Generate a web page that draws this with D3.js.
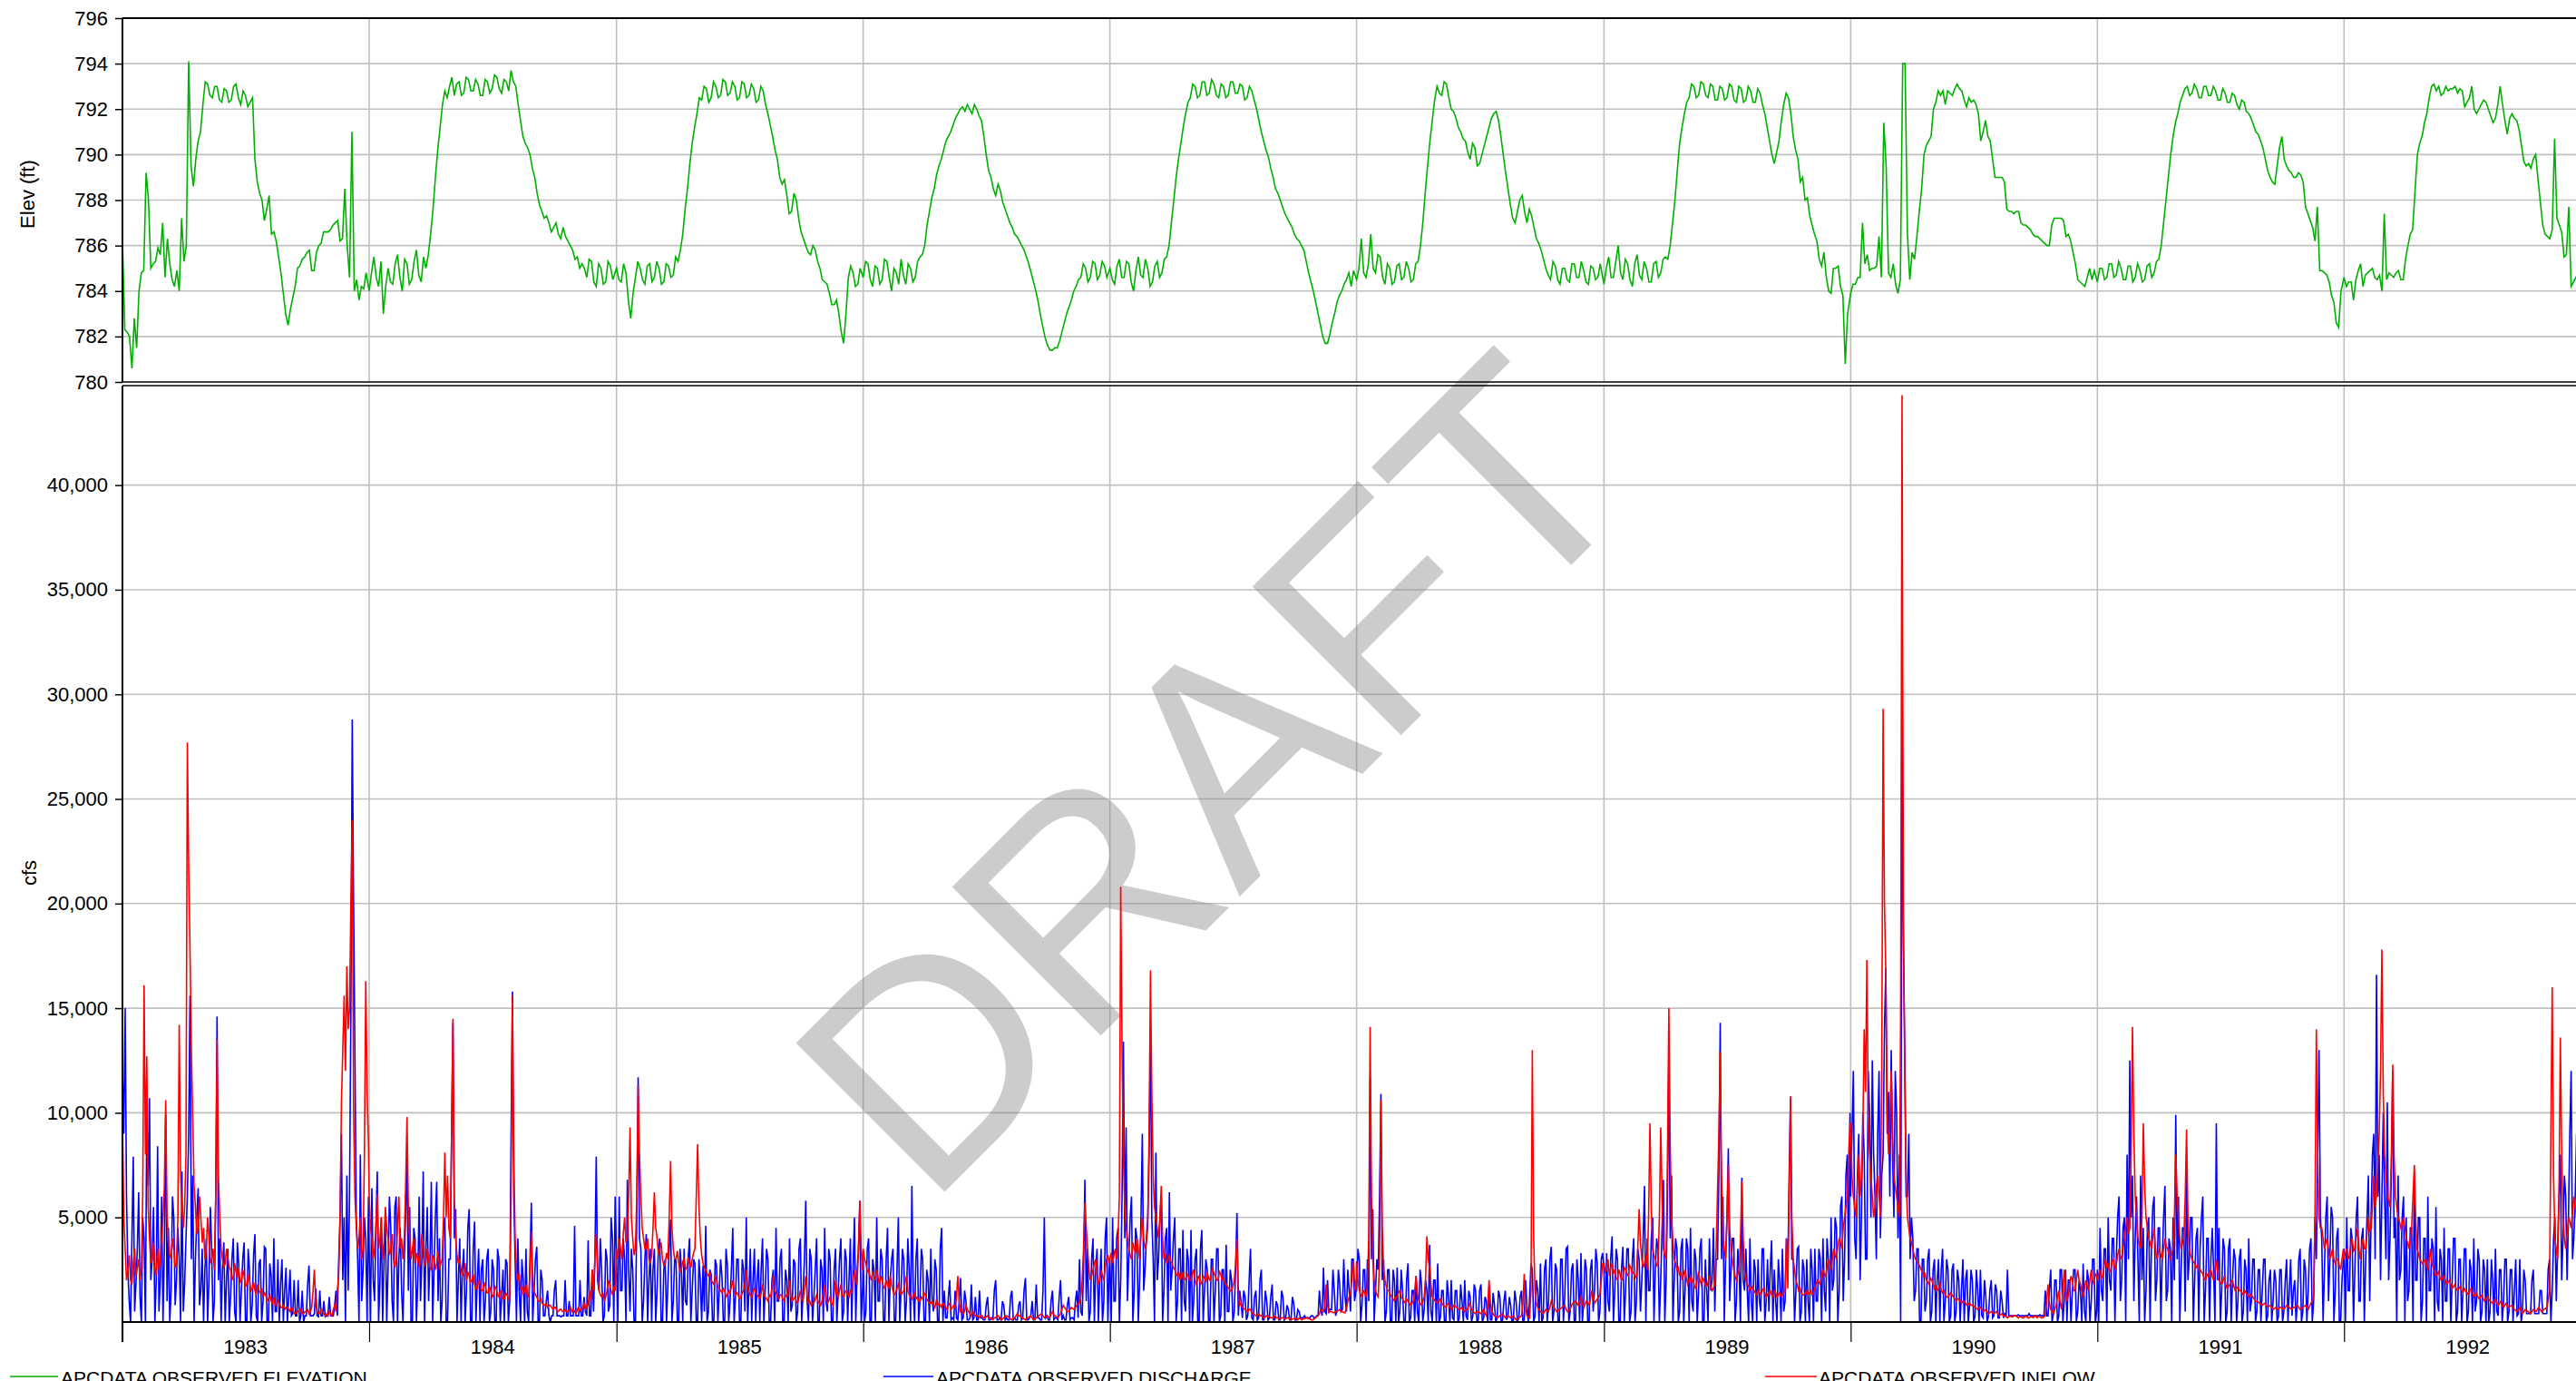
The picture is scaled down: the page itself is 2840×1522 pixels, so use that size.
<!DOCTYPE html>
<html><head><meta charset="utf-8">
<script src="https://cdn.jsdelivr.net/npm/d3@7"></script>
<style>
html,body{margin:0;padding:0;background:#fff;overflow:hidden;}
svg{display:block;font-family:"Liberation Sans",Arial,sans-serif;}
</style></head><body>
<svg id="chart" width="2840" height="1522"></svg>
<script>
// ---------------- DATA ----------------
const years = [1983,1984,1985,1986,1987,1988,1989,1990,1991,1992];
const yearLabels = ["1983","1984","1985","1986","1987","1988","1989","1990","1991","1992"];
const elevTicks = [780,782,784,786,788,790,792,794,796];
const flowTicks = [5000,10000,15000,20000,25000,30000,35000,40000];
const legendNames = ["APCDATA OBSERVED ELEVATION","APCDATA OBSERVED DISCHARGE","APCDATA OBSERVED INFLOW"];

// Elevation (ft), one reading every 3.5 days from Jan 1 of each year
const elev1983 = [786.2,782.3,782.2,782.0,780.6,782.8,781.5,784.0,784.8,784.9,789.2,788.0,785.0,785.2,785.3,785.9,785.6,787.0,784.6,786.3,785.2,784.5,784.2,784.9,784.0,787.2,785.3,786.0,794.1,789.5,788.6,789.8,790.6,791.0,792.2,793.2,793.1,792.6,792.5,793.0,793.0,792.4,792.3,792.9,792.8,792.3,792.4,793.0,793.1,792.5,792.2,792.8,792.6,792.1,792.3,792.5,789.8,788.8,788.3,788.0,787.1,787.6,788.2,786.5,786.6,786.2,785.5,784.8,783.9,783.0,782.5,783.2,783.7,784.2,785.0,785.1,785.4,785.5,785.7,785.8,784.9,784.9,785.7,786.0,786.1,786.6,786.6,786.6,786.7,786.9,787.0,787.1,786.2,786.3,788.5,786.0,784.6,791.0,784.0,784.5,783.6,784.2,784.1,784.8];
const elev1984 = [784.0,784.8,785.5,784.6,784.2,785.3,783.0,784.2,785.0,784.4,784.3,785.2,785.6,784.6,784.0,785.4,785.2,784.3,784.5,785.3,785.8,784.7,784.4,785.5,785.0,785.6,786.5,787.6,789.0,790.2,791.2,792.2,792.8,792.5,793.0,793.4,792.6,793.1,793.2,792.6,792.7,793.4,793.3,792.8,792.8,793.3,793.1,792.6,792.6,793.3,793.2,792.7,792.9,793.5,793.4,792.9,792.7,793.3,793.2,792.8,793.7,793.2,793.0,792.2,791.5,790.8,790.5,790.3,790.0,789.4,789.0,788.3,787.8,787.5,787.2,787.3,787.0,786.6,786.8,787.0,786.5,786.3,786.8,786.4,786.2,786.0,785.8,785.4,785.5,785.0,785.2,785.0,784.6,785.4,785.3,784.4,784.2,785.2,785.0,784.3,784.4,785.3,785.1,784.5];
const elev1985 = [785.0,784.5,784.4,785.2,784.8,783.6,782.8,783.9,784.6,785.3,785.0,784.5,784.3,785.1,785.2,784.4,784.6,785.3,785.0,784.3,784.4,785.2,785.1,784.6,784.7,785.5,785.3,785.8,786.5,787.6,788.5,789.6,790.5,791.2,791.8,792.5,792.4,793.0,792.9,792.3,792.5,793.2,793.0,792.5,792.6,793.3,793.2,792.6,792.7,793.2,793.0,792.4,792.5,793.2,793.1,792.5,792.6,793.1,792.9,792.3,792.4,793.0,792.8,792.2,791.8,791.3,790.8,790.2,789.8,789.0,788.7,788.9,788.2,787.4,787.5,788.3,788.0,787.2,786.6,786.3,786.0,785.7,785.6,786.0,785.8,785.3,785.0,784.5,784.4,784.3,783.9,783.4,783.4,783.6,783.0,782.2,781.7,783.0,784.6,785.1,784.8,784.2,784.3,785.0];
const elev1986 = [784.6,785.3,785.2,784.5,784.2,785.1,785.0,784.3,784.5,785.4,785.3,784.6,784.0,785.0,784.8,784.3,785.4,784.7,784.3,785.2,785.0,784.4,784.6,785.3,785.5,785.6,786.0,786.9,787.5,788.1,788.5,789.1,789.5,789.8,790.2,790.6,790.8,791.0,791.3,791.6,791.8,792.0,792.1,791.9,792.2,792.0,791.8,792.2,792.0,791.7,791.5,790.8,790.0,789.3,789.0,788.5,788.2,788.7,788.4,787.9,787.6,787.3,787.0,786.8,786.5,786.4,786.2,786.0,785.8,785.5,785.2,784.8,784.4,784.0,783.5,782.9,782.4,781.9,781.6,781.4,781.4,781.5,781.5,781.8,782.2,782.6,783.0,783.3,783.6,784.0,784.2,784.5,784.6,785.2,785.0,784.4,784.6,785.3,785.2,784.5,784.7,785.3,785.1,784.6];
const elev1987 = [785.0,784.5,784.3,785.1,785.4,784.6,784.6,785.3,785.2,784.4,784.0,784.9,785.5,784.7,784.6,785.4,785.0,784.2,784.4,785.1,785.3,784.6,784.8,785.4,785.5,786.0,787.0,788.0,789.0,789.8,790.5,791.2,791.8,792.3,792.5,793.1,793.0,792.5,792.6,793.2,793.2,792.6,792.7,793.3,793.1,792.6,792.5,793.1,793.0,792.5,792.6,793.2,793.2,792.7,792.7,793.1,793.0,792.4,792.5,793.0,792.8,792.4,792.0,791.5,791.0,790.6,790.2,789.9,789.4,789.0,788.5,788.3,788.0,787.7,787.4,787.2,787.0,786.8,786.5,786.3,786.2,786.0,785.8,785.3,784.8,784.4,784.0,783.5,783.0,782.5,782.0,781.7,781.7,782.1,782.6,783.0,783.5,783.8,784.0,784.3,784.5,784.8,784.2,784.9];
const elev1988 = [784.5,785.0,786.3,784.8,784.6,785.2,786.5,785.0,784.8,785.6,785.5,784.6,784.3,785.2,785.0,784.3,784.4,785.1,785.2,784.5,784.6,785.3,785.0,784.4,784.5,785.2,785.3,786.0,787.0,788.3,789.5,790.6,791.5,792.4,793.0,792.7,792.6,793.2,793.1,792.5,792.0,791.9,791.6,791.2,791.0,790.7,790.6,790.1,789.8,790.5,790.3,789.5,789.6,790.0,790.4,790.8,791.2,791.6,791.8,791.9,791.5,790.8,790.0,789.2,788.5,787.8,787.2,787.0,787.5,788.0,788.2,787.5,787.0,787.6,787.3,786.8,786.3,786.1,785.8,785.4,785.0,784.7,784.5,785.3,785.1,784.5,784.3,785.0,785.0,784.5,784.4,785.2,785.2,784.6,784.6,785.3,784.9,784.4,784.3,785.1,785.0,784.5,784.6,785.2];
const elev1989 = [784.3,785.0,785.5,784.6,784.6,785.3,786.0,784.8,784.5,785.4,785.2,784.5,784.2,785.2,785.6,784.7,784.5,785.3,785.0,784.4,784.4,785.2,785.3,784.6,784.8,785.4,785.5,785.4,786.0,787.0,788.0,789.3,790.5,791.2,791.8,792.3,792.5,793.1,793.0,792.5,792.6,793.2,793.1,792.6,792.5,793.1,793.0,792.4,792.4,793.0,792.9,792.4,792.5,793.1,793.0,792.4,792.3,793.0,792.9,792.3,792.4,793.0,792.8,792.3,792.3,792.9,792.7,792.2,791.8,791.2,790.6,790.0,789.6,790.1,790.6,791.5,792.2,792.7,792.5,791.8,790.8,790.2,789.8,788.8,789.0,788.0,788.1,787.3,786.9,786.5,786.2,785.4,785.1,785.7,784.6,784.0,783.9,785.0,785.0,785.1,784.2,783.8,780.8,783.0];
const elev1990 = [783.9,784.3,784.3,784.6,784.6,787.0,785.2,785.6,784.9,785.0,785.0,785.1,786.4,784.6,791.4,789.5,784.8,784.6,785.2,784.3,783.9,784.5,794.0,794.0,786.5,784.5,785.7,785.4,786.4,787.5,788.5,790.0,790.4,790.6,790.8,792.0,792.3,792.8,792.6,792.8,792.2,792.8,792.7,792.6,792.9,793.1,792.9,792.8,792.4,792.1,792.5,792.3,792.4,792.2,791.8,790.6,791.0,791.5,790.8,790.6,789.8,789.0,789.0,789.0,789.0,788.8,787.6,787.5,787.5,787.4,787.5,787.5,787.0,786.9,786.9,786.8,786.7,786.5,786.4,786.4,786.3,786.2,786.1,786.0,786.0,786.9,787.2,787.2,787.2,787.2,787.1,786.4,786.5,786.2,785.7,785.2,784.5,784.4,784.3,784.2,784.6,785.0,784.5,784.9];
const elev1991 = [784.4,785.0,785.0,784.5,784.6,785.2,785.2,784.6,784.7,785.3,785.0,784.5,784.5,785.1,785.1,784.4,784.6,785.2,784.9,784.4,784.5,785.1,785.2,784.6,784.8,785.3,785.4,786.0,787.0,788.0,789.0,790.0,790.8,791.4,791.8,792.3,792.6,792.9,793.0,792.6,792.7,793.1,792.9,792.5,792.5,793.0,793.0,792.6,792.6,793.0,792.8,792.4,792.4,792.9,792.7,792.3,792.3,792.7,792.6,792.2,792.0,792.4,792.3,791.9,791.8,791.6,791.3,791.0,790.9,790.6,790.3,789.8,789.3,789.0,788.8,788.7,789.5,790.3,790.8,789.8,789.5,789.3,789.2,789.0,789.0,789.2,789.1,788.8,787.7,787.4,787.1,786.8,786.2,787.7,784.9,784.9,784.8,784.7,784.4,783.8,783.5,782.6,782.4,784.0];
const elev1992 = [784.6,784.2,784.4,784.4,783.6,784.5,784.9,785.2,784.2,784.7,784.8,784.9,785.0,784.6,784.5,784.7,784.0,787.4,784.5,784.8,784.7,784.6,784.8,784.9,784.5,784.5,785.4,786.0,786.5,786.7,788.4,790.0,790.5,790.8,791.4,791.8,792.5,793.0,793.1,792.8,793.0,792.6,792.7,793.0,792.8,792.9,792.9,793.0,792.7,792.9,792.8,792.1,792.3,792.5,793.0,792.0,791.8,792.0,792.2,792.4,792.3,792.0,791.7,791.4,791.6,792.2,793.0,792.2,791.5,790.9,791.6,791.8,791.6,791.5,791.1,790.4,789.7,789.5,789.6,789.4,789.8,790.0,788.9,787.9,786.9,786.5,786.4,786.3,786.7,790.7,787.2,786.9,786.6,785.5,785.6,787.7,784.2,784.4,784.6,784.4];

// Discharge (cfs), one reading every 2 days from Jan 1 of each year
const dis1983 = [12000,9000,15000,6000,2500,1000,0,4000,7900,500,1800,3500,6200,1200,0,5000, 4000,0,10000,6500,10700,2000,3000,5500,0,2000,8400,500,2000,6000, 0,3500,9900,1000,4500,0,1500,6000,5000,800,2000,4500,3000,0,7200,500, 1800,4000,6000,9000,15600,3000,7000,0,3000,5000,6400,800,1500,3500, 0,2500,4000,0,2000,5500,3500,0,1000,6000,14600,2000,4000,0,2500,3800, 0,2000,3500,0,1200,3000,4000,500,0,3800,2800,0,1500,3000, 3800,0,0,3500,2500,0,800,3200,4200,300,0,2800,3000,0,1000,3600, 3500,0,0,2800,2200,0,4000,500,500,3000,0,1800,3000,0,1500,2600, 0,1200,2500,300,400,2000,300,300,2000,0,300,1500,0,300, 300,1800,2700,300,300,300,400,1600,300,250,1500,300,300,1000,250,300, 300,1200,300,300,300,800,1500,300,3000,5000,9000,2000,5000,0, 7000,1500,6000,15000,28800,20000,12600,5000,3000,0,8000,1000,2500,5000,4000,0,6000];
const dis1984 = [3500,0,6400,2000,1000,4500,7200,0,2000,5000,0,3000,5000,0,2500,6000, 4500,1000,0,5500,6000,0,3000,4500,1500,0,3000,5000,8100,1500, 5500,0,0,4500,4000,0,2000,6000,1000,3000,7200,0,3500,5500,1000,3000, 6700,0,2500,5000,6700,1000,4000,0,1000,4500,5000,0,0,3000, 3000,9000,14300,4000,5400,0,2000,4000,0,2500,3500,0,1500,4500,5400,0, 0,3500,4800,0,2000,3500,0,2500,3000,0,1000,3000,3500,0, 500,3000,2500,0,0,3500,3000,0,1200,2500,0,3000,2800,0,1000,9000, 15800,6000,3000,0,4000,1500,0,3000,2000,0,3500,500,0,3000,5700,0, 1500,3000,3600,0,0,2500,2000,300,300,1000,1500,300,0,300, 300,1500,2000,300,300,300,250,300,300,2000,300,300,1000,300,300,300, 4600,300,300,300,2000,300,300,1200,500,300,3900,300,300,2500, 500,3000,7900,2000,1500,4000,2500,0,300,3500,3000,500,800,5000,4000,0,6000];
const dis1985 = [3000,0,6000,1500,1500,4000,3000,0,6800,2500,500,3500,2500,0,0,5000, 11700,4000,3500,0,1000,3000,4200,0,2000,3500,0,2500,3500,0, 1500,3500,4000,0,0,2500,3000,0,1800,3500,4900,0,1000,3000,3000,0, 0,3500,2500,0,3500,1000,800,3000,4000,0,1500,3000,2800,0, 0,3000,2000,0,2700,500,4600,0,500,2500,2300,0,0,3000,2700,0, 1500,3000,2200,0,0,3500,2700,0,1000,2500,4500,0,1200,3000, 3000,0,0,3000,2500,500,5000,0,1500,3500,0,2000,3500,0,2000,3000, 0,2500,4000,0,1500,3500,3000,0,0,2000,2500,0,4500,1000,1000,3000, 3500,0,0,2500,2000,0,4000,500,800,3000,2800,0,500,3500, 4000,0,1500,3000,5800,1000,0,3500,3000,0,1200,2500,4000,0,0,3000, 2500,0,4500,1000,500,3500,3000,0,0,2500,3500,0,1500,3000, 4000,0,500,3500,3000,0,2000,4000,0,2500,5000,0,2500,3500,5800,0,1500];
const dis1986 = [3000,0,500,3500,4000,0,0,3000,2500,0,5000,1000,1000,3500,3000,0, 0,3000,4500,0,2000,3000,3500,0,0,2500,5000,0,1500,3500, 3000,0,1000,4000,2500,0,6500,1500,0,3000,4000,0,1000,3500,3000,0, 0,2500,2000,0,3500,1000,500,3000,2500,0,0,3500,4500,0, 1500,200,200,1200,2000,100,200,100,1500,200,100,1000,2100,100,200,1500, 1000,100,100,200,1800,100,200,1200,100,100,1500,200,200,100, 100,800,1200,100,100,200,200,1500,2000,100,100,200,100,1000,800,100, 200,100,100,1200,1500,100,200,100,100,800,1000,100,200,1500,2100,100, 100,200,300,1000,100,100,1800,200,200,100,100,1500,5000,200, 300,100,100,1000,1500,100,200,200,100,1200,2000,100,300,100,100,800, 1200,100,200,200,100,1000,1500,200,3000,500,300,2500,6800,1000, 3500,0,500,3000,4000,0,2500,3500,0,2000,3500,0,1000,4000,5000,0,2500];
const dis1987 = [3000,0,5000,1000,1000,4000,4500,0,2000,6000,13400,4000,9300,1000,3000,5000, 6000,0,1500,4500,4000,0,2000,5000,9000,1500,2500,4000,5000,8000, 14000,5000,3000,0,8100,2000,3000,5000,6000,0,1500,4000,4500,0,6200,1500, 2500,4000,5000,0,1000,3500,3500,0,4400,1000,500,3500,3000,0, 4400,0,1000,3000,3500,0,0,3500,4400,0,1500,3000,2500,0,0,3000, 3000,0,1500,3500,3500,0,300,2500,2500,0,3700,500,500,2500, 2000,0,500,2500,5200,300,1500,1000,200,1500,1200,100,300,2000,3500,200, 100,1200,1500,100,200,2000,2500,100,100,1500,1000,100,200,1200,1800,100, 100,1000,800,100,100,1500,1200,100,200,800,600,100,100,1200, 900,100,100,600,500,200,200,200,300,200,200,200,200,300,300,200, 200,300,300,1500,600,300,2600,500,400,2000,500,600,600,2500, 1500,300,500,2500,1800,500,600,3000,1200,500,2500,1500,500,3000,3000,1000,1500];
const dis1988 = [1500,3500,3000,0,800,2500,2500,0,3000,1000,11700,3000,5400,0,1500,3000, 2500,6000,10900,2000,3000,0,500,2500,2500,0,0,2500,2000,0, 2600,0,500,2500,1500,0,0,2000,2800,0,200,1500,1500,0,2200,500, 0,2500,1800,0,600,2000,1500,0,3700,500,0,2000,2000,0, 2800,0,200,1500,1500,0,0,2000,1200,0,2000,200,100,1500,1500,0, 200,1800,1000,0,2000,300,100,1500,1200,0,300,1800,1500,0, 100,1500,1800,0,200,1200,1000,0,1700,100,100,1400,800,0,200,1500, 1200,0,100,1000,1500,100,300,1200,800,0,100,1500,1000,0,200,1200, 1500,0,100,2000,800,0,1200,2800,2500,0,300,2000,1500,0, 2800,0,200,2500,3000,0,1000,3000,3600,0,500,2800,2500,0,0,3000, 3000,0,1200,3500,3600,0,500,2500,2800,0,100,3000,2000,0, 3300,0,1000,3000,2500,0,0,2500,3000,500,1500,3500,2800,0,500,3000,3300];
const dis1989 = [2500,0,3300,1000,500,3000,4100,0,1500,3500,3000,0,0,2500,3600,0, 1500,3500,3500,0,500,3000,4000,0,1000,3500,3000,500,2000,4000, 6500,0,4000,1500,1500,4000,5000,0,2500,4000,3500,0,2000,4500,6800,0, 2000,6000,12700,4000,7000,0,2000,4000,3500,0,500,3500,4000,0, 1500,4000,3500,0,4500,1000,500,3500,3000,0,1500,3500,4000,0,0,3000, 1500,0,4000,1500,2000,4500,500,3000,3000,7000,14300,3000,6000,0, 3000,5000,8300,1000,2500,4000,4000,0,1000,3500,2500,0,6900,2000,1500,3500, 1500,0,4000,1000,0,3000,2500,0,3000,1000,500,3500,3500,0,1000,3000, 500,2500,3900,0,2500,1000,0,3000,2000,0,3500,500,1000,4000, 2500,7000,10700,3000,3000,0,1500,3500,3600,0,500,3000,2500,0,3000,1000, 0,3500,2500,0,3500,1000,1000,3500,3000,0,4000,1500,500,4000, 3000,0,5000,1500,2000,5000,4500,0,1500,5500,6000,1000,3000,7000,8000,2000,10000];
const dis1990 = [6000,9000,12000,4000,3000,7000,9000,2000,5000,10000,8000,3000,3000,12000,10000,5000, 12500,8000,6000,3000,9000,12000,4000,7000,8000,14000,16900,9000,11000,6000, 13000,8000,5000,12000,10000,4000,8000,0,29500,18000,13000,6000,6000,9000,3000,5000, 4000,1000,1500,3500,3500,0,0,3000,3000,500,1000,3000,3500,0, 500,2500,3000,0,2000,3000,0,2500,3500,0,1000,3000,2500,0,300,2500, 2800,0,500,2500,2000,0,1500,3000,0,2000,2500,0,800,2500, 2000,0,300,2500,1500,0,2500,300,200,2000,1200,0,300,1500,2000,200, 300,1800,1500,200,200,1500,1000,200,400,300,2500,300,300,300,300,300, 300,300,350,300,300,300,300,300,300,300,400,300,300,300, 300,300,300,300,350,300,300,300,1500,300,300,1500,2500,0,400,2000, 2000,0,300,2500,2500,0,1000,2500,0,2000,2000,0,1500,2500, 2500,0,500,2000,1500,0,2800,500,0,2500,2000,0,1000,3000,3000,0,500];
const dis1991 = [2500,0,4500,1500,1000,3500,3500,0,5000,2000,1500,4000,4000,0,3000,5000, 6000,1000,2000,4500,5000,0,8000,3000,12500,5000,7000,1000,4000,6000, 3000,0,7000,2000,4500,0,1500,4500,5000,0,3500,5500,6000,1000,2000,4500, 4500,0,3000,5000,6500,1000,1500,4000,3500,0,5000,2000,9900,3000, 6000,0,2500,4500,4500,500,7500,2000,3000,5000,5000,0,2000,4000,4500,0, 3500,5000,6000,0,1500,4000,4000,0,3000,4500,2500,0,9500,2000, 4500,0,1500,4000,3500,0,500,3500,4000,0,2000,3500,3000,0,1000,3000, 3500,0,500,3000,2500,0,4000,500,1000,3000,3000,0,500,2500,2500,0, 1500,3000,3000,0,300,2000,2500,0,1000,2500,2000,0,300,2500, 2500,0,500,2000,3000,0,1500,3000,300,1500,2000,0,1000,3000,3500,0, 500,3000,2500,0,1500,3500,4000,0,1000,5000,3000,8000,13000,5000, 4000,0,2500,5000,6000,1000,3000,5500,5000,0,1500,4000,4500,0,0,2000,3000];
const dis1992 = [3500,0,5000,1500,1500,4500,4000,0,2500,5000,6000,1000,1000,4000,4500,0, 3000,5000,7000,1000,5000,8000,9000,3000,16600,6000,8000,2000,6000,10000, 6000,3000,10500,2000,4000,7000,12000,4000,5000,0,7000,2000,2500,5000,6000,0, 5000,1000,1500,4500,4500,0,7000,2000,2000,5000,5000,0,1000,4000, 4000,0,6000,1500,1500,4000,3500,0,5500,1000,500,3500,3000,0,4500,1000, 1000,3500,3500,0,2000,4000,4000,0,500,3000,3000,0,1500,3500, 3500,0,500,3000,2500,0,4000,500,1000,3500,3000,0,500,3000,2500,0, 3000,0,500,3000,2000,0,3500,500,300,2500,2500,0,1000,3000,3000,0, 500,2500,2500,0,1500,3000,300,400,3000,0,500,2500,2000,400, 400,400,400,2000,2500,400,400,400,400,1500,1500,400,400,400,400,2500, 3000,0,1500,4000,5000,1000,3500,6000,8000,2000,4000,7000,6000,2000, 5000,9000,12000,3000,4000,6000,9000];

// Inflow (cfs), one reading every 2 days from Jan 1 of each year
const inf1983 = [9800,5000,3500,2000,2500,3200,2000,1800,2800,3500,2200,2600,3000,2000,2500,6000, 16100,8000,12700,5500,4000,2800,3000,3800,2600,2200,3500,2500,3000,4000, 5000,6500,10600,5000,4000,3200,3000,4000,3500,2600,2800,5000,14200,7000,5500,4500, 5500,8000,27700,21700,17700,13000,9700,6500,5500,4200,4500,6000,5000,3800, 4500,3000,3500,5000,4000,2800,3000,3500,2500,6000,13500,7000,5000,3500,3000,2600, 2800,3500,3000,2600,2500,2000,2200,2800,2400,2100,2600,1900,2000,2500, 2200,1700,1800,2300,2000,1500,1600,1900,1500,1300,1800,1500,1400,1600,1200,1400, 1300,1000,1100,1300,1000,900,1200,800,800,1000,900,700,700,800,600,700, 700,600,500,700,600,400,400,500,500,600,600,400,400,500, 500,600,400,500,700,1500,2500,900,500,400,400,600,500,400,300,400, 300,500,400,300,600,800,500,1500,2300,5000,10500,13000,15600,12000, 17000,14000,15000,20000,24000,10000,6000,4500,3500,4000,5000,3000,3500,8000,16300,11000,8500];
const inf1984 = [6000,4500,4000,3000,3500,4500,6100,3500,4000,5000,3000,3800,5500,4500,4000,3200, 3500,4200,3000,2600,3000,4500,6000,3500,4000,3000,4000,6500,9800,5500, 4000,3000,3500,4000,2800,3300,3000,2600,3500,4200,3200,2700,2800,3500,3000,2600, 2500,3200,3000,2500,2800,3400,2500,2800,3000,5000,8100,5000,7000,4500, 4000,9000,14500,6000,4000,3200,2800,3000,2500,2200,2300,2800,2000,2400,2200,1900, 2000,2300,1800,1600,1600,2000,1800,1500,1500,1900,1700,1400,1400,1700, 1500,1200,1300,1700,1600,1300,1200,1500,1400,1100,1100,1400,1300,1100,1200,6000, 15600,8000,4000,2500,2000,2300,1500,1700,1300,1500,1800,1300,1200,2500,4300,2000, 1500,1300,1200,1000,1000,1100,900,800,800,900,700,800,800,700, 600,700,700,500,500,600,600,500,500,600,500,500,600,700,500,600, 500,400,600,700,500,600,700,900,600,800,800,1500,1000,2500, 1500,3000,4200,2500,1500,1300,1200,1400,1000,1200,1500,2000,1800,1500,1300,1700,1500];
const inf1985 = [3500,3000,4000,3500,3000,4200,5000,3800,4000,6000,9300,5000,4000,3200,3500,6000, 11300,8000,6000,4500,4000,3500,3500,4000,3000,2800,3200,4500,6200,4500, 4000,3200,3500,3800,3000,2700,2800,3300,3000,5000,7700,4500,3500,3000,3000,3400, 2800,2400,2500,2900,3000,2500,2600,3100,2800,2600,3000,3300,3500,6000, 8500,5500,4000,3200,2800,2600,2500,2300,2200,2400,2000,1900,1800,2200,2000,1700, 1600,1500,1400,1600,1500,1200,1300,1500,1400,1700,2000,1500,1300,1400, 1300,1100,1200,1400,1500,1900,2500,1600,1400,1300,1200,1500,1600,1400,1300,1200, 1100,1400,1800,1300,1200,1100,1000,1300,1200,1600,2200,1500,1400,1200,1100,1300, 1300,1100,1000,1300,1200,1500,2000,1200,1000,1100,1200,1000,900,1200, 1500,1100,1000,1600,2200,1300,900,1000,800,900,900,1100,1300,1000,900,800, 1000,1400,1800,1100,900,1000,1200,900,800,1300,2000,1400,1200,1500, 1800,1300,1200,1400,1500,1300,1200,1500,1400,2000,2500,2000,1800,3500,5800,3500,2500];
const inf1986 = [3500,3000,2800,2400,2500,2200,2000,2400,2200,2000,2500,2100,1800,2200,2000,1700, 1600,2000,1800,1600,2200,1800,1500,1300,1400,1600,1800,1500,1300,1400, 1500,1900,2200,1500,1300,1200,1100,1300,1400,1100,1200,1000,1000,1200,1100,1400, 1300,1100,1000,900,900,1000,800,700,1000,800,900,800,700,900, 800,700,600,800,900,600,700,800,700,1200,2200,1000,500,600,400,500, 800,600,500,400,300,500,400,300,300,250,200,300,300,200, 200,250,300,200,200,150,100,200,200,300,300,200,100,150,200,250, 300,250,200,150,100,200,200,300,400,300,300,200,200,150,100,200, 200,250,300,200,100,150,200,250,300,350,400,300,200,250, 300,250,200,400,500,350,300,250,200,300,400,600,800,700,600,500, 500,600,700,650,600,700,800,900,900,1200,2000,3500,5700,4500, 3500,2500,2000,2200,2500,2800,3000,2200,1800,2000,2500,2200,2000,2600,3000,3200,2800];
const inf1987 = [3000,3300,2800,3200,3500,3000,4000,6000,20800,13000,8000,5500,4500,4000,3500,3200, 3000,3800,3500,3300,4000,3500,3000,4200,5000,4000,3500,3800,4500,9000, 16800,11000,7000,5500,5000,4500,4000,5000,6500,4000,3000,3300,2800,3000,3200,2900, 2800,2600,2500,2300,2200,2400,2000,2200,2400,2000,2100,2300,2200,2000, 2000,2300,2500,2000,1800,2100,2200,1800,1900,2200,2100,1900,2400,2100,2000,2300, 2600,2300,2200,2000,2000,2400,2300,2000,2100,1900,1800,1700,1600,1500, 1500,1700,2000,2800,4000,1500,800,900,700,650,600,550,500,600,600,450, 400,350,300,350,400,300,300,250,200,250,300,250,250,200,200,250, 300,200,200,150,150,200,200,150,150,200,200,150,100,150, 150,200,150,100,200,150,100,150,150,200,200,150,150,100,100,150, 200,250,300,400,600,500,500,700,1800,800,450,500,500,450, 450,500,500,550,600,500,500,450,450,700,1000,1200,1400,2000,2900,2000,1500];
const inf1988 = [2900,2000,1500,1300,1200,1500,1400,1200,1800,4000,14100,6000,3000,2000,1500,1300, 1200,3000,10600,4500,2500,2000,1700,1500,1500,1300,1200,1100,1000,1200, 1200,1400,1500,1200,1100,1000,900,1100,1000,900,800,900,1000,1500,2200,1400, 1000,900,800,1000,1200,2000,4100,3000,2600,1800,1200,1100,1000,950, 900,1000,1100,900,800,750,700,850,900,700,600,700,800,750,700,650, 600,650,700,550,500,600,600,800,900,600,500,450,400,500, 500,450,400,500,600,400,300,700,2000,900,500,400,300,250,200,250, 300,350,400,300,200,250,300,250,200,250,300,200,100,150,200,250, 300,800,2300,600,300,250,200,1500,13000,4000,1500,900,700,600, 500,450,400,500,600,550,500,700,1000,800,700,600,500,550,600,650, 700,750,800,600,500,550,600,800,900,950,1000,900,800,1000, 1200,900,700,850,1000,900,800,1100,1500,1200,900,1000,1100,1200,1300,2000,2800];
const inf1989 = [2800,2400,2500,3000,2200,2600,2800,2300,2500,2100,2000,2500,2300,2000,2100,2600, 2500,2300,2200,2700,2600,2300,2400,2100,2200,3500,5400,3800,3000,2600, 2800,3200,2500,5000,9500,5500,3500,3200,3000,2700,2800,5000,9300,6000,3500,3200, 3000,8000,15000,8500,5000,3800,3000,2800,2500,2600,2200,2400,2000,2300, 2500,2100,1800,2000,2200,1900,2000,1700,1600,2000,2400,2000,1800,2100,2000,1800, 1700,1900,2200,1700,1500,1600,1800,3500,6200,9000,12900,7000,4000,3500, 3000,5000,7500,4500,3500,3000,2500,2200,2000,2300,2500,4000,6700,4000,2500,2000, 1800,1700,1500,1600,1700,1500,1400,1300,1500,1400,1300,1500,1600,1400,1200,1300, 1400,1500,1300,1200,1500,1400,1200,1300,1400,1200,1300,1400,1500,4000, 1600,6000,10800,5000,3000,2500,2000,1800,1500,1600,1400,1300,1300,1400,1500,1300, 1400,1500,1300,1400,1600,1800,2000,1900,1800,2200,2500,2300,2200,2600, 3000,2800,2500,3000,3500,3200,3000,3600,4000,3800,3500,4500,5000,5500,6000,8000,9500];
const inf1990 = [9500,7000,6000,5500,5000,6500,8000,6000,7000,9000,14000,11000,17300,10000,8000,7000, 6000,5000,5500,6500,7000,6000,5000,12000,29300,20000,16800,10000,8000,9500, 12000,9000,7000,6500,6000,5500,5000,15000,44300,20000,12000,7000,5000,4500,4000,3800, 3500,3200,3000,2900,2800,2700,2500,2400,2200,2300,2000,1900,1800,2100, 2000,1800,1600,1700,1500,1600,1800,1500,1400,1500,1300,1200,1200,1300,1400,1300, 1200,1100,1000,1100,1100,1000,900,1000,1000,900,800,850,900,800, 800,750,700,650,600,700,700,600,500,550,600,500,400,450,500,450, 400,450,500,400,300,350,400,300,300,250,200,250,300,250,250,300, 300,250,200,250,250,200,200,250,300,200,200,250,250,200, 300,250,200,300,250,200,200,250,300,1000,1800,900,600,500,400,600, 800,1200,1500,900,600,1500,2500,1500,1000,1300,1800,2200,2000,1500, 1500,2000,2500,2000,1800,1500,1200,1600,2000,1700,1500,2000,2500,2000,1800,2300,2200];
const inf1991 = [2000,2300,2500,2100,2200,2700,3000,2600,2800,2400,2500,2900,3000,2500,2700,3200, 3500,3200,3000,3500,4000,4500,5000,4200,4500,8000,14100,9000,6000,5000, 4000,3700,3500,5000,9500,6500,5000,4500,4000,3800,3500,4000,4500,3500,3000,3300, 3500,3200,3000,3500,4000,3600,3500,3200,3000,3300,3500,5000,8000,6000, 5000,4000,3500,3800,4000,6000,9200,5000,3500,3200,3000,2900,2800,2600,2700,2500, 2500,2400,2300,2100,2000,2300,2200,2400,2500,2200,2000,2500,3000,2400, 2000,1900,1800,2000,2200,1800,1600,1700,1800,1900,2000,1700,1500,1600,1700,1500, 1500,1400,1300,1500,1400,1300,1200,1300,1300,1200,1100,1000,1000,950,900,850, 800,850,900,800,700,750,800,700,600,650,700,650,600,700, 700,650,600,700,800,750,700,650,600,700,700,750,800,700,600,650, 700,750,800,700,600,750,900,1000,1200,5000,14000,8000,5000,4500, 4500,4000,3500,3800,4000,3500,3000,3200,3500,3000,2800,3000,3000,2700,2500,3000,3500];
const inf1992 = [3000,3300,3500,3000,3200,3700,4000,3400,3500,4000,4500,3500,3000,3600,4000,3500, 3500,4200,5000,4300,4500,5500,7000,5500,6000,7500,9000,12000,17800,11000, 8000,7000,6000,5800,5500,8000,12300,8000,6000,5500,5000,4800,4500,4700,5000,4500, 4000,3800,3500,4000,4500,6000,7500,5000,3500,3300,3000,2900,2800,2900, 3000,2700,2500,3000,3500,2800,2600,2400,2200,2300,2400,2100,2000,2100,2200,2000, 1800,1900,2000,1800,1600,1700,1800,1600,1500,1600,1700,1500,1400,1600, 1500,1400,1300,1500,1600,1400,1200,1300,1400,1200,1100,1200,1300,1100,1000,1100, 1200,1100,1000,950,900,1000,1100,900,800,900,1000,800,700,800,900,750, 700,750,800,700,600,550,500,600,700,500,400,500,600,550, 500,450,400,500,600,550,500,600,700,600,500,550,600,650,700,1000, 1500,9000,16000,7000,4000,3500,3000,6000,13600,8000,5000,4000,3500,4200, 5000,4800,4500,5200,6000,5500,5000];

const elevByYear = [elev1983,elev1984,elev1985,elev1986,elev1987,elev1988,elev1989,elev1990,elev1991,elev1992];
const disByYear = [dis1983,dis1984,dis1985,dis1986,dis1987,dis1988,dis1989,dis1990,dis1991,dis1992];
const infByYear = [inf1983,inf1984,inf1985,inf1986,inf1987,inf1988,inf1989,inf1990,inf1991,inf1992];

// ---------------- CHART ----------------
const DAY = 864e5;
function toPoints(byYear, stepDays){
  const pts = [];
  years.forEach((yr,i)=>{
    const end = Date.UTC(yr+1,0,1);
    byYear[i].forEach((v,k)=>{
      const t = Date.UTC(yr,0,1)+k*stepDays*DAY;
      if (t < end) pts.push([t, v]);
    });
  });
  return pts;
}
const elevPts = toPoints(elevByYear, 3.5);
const disPts = toPoints(disByYear, 2);
const infPts = toPoints(infByYear, 2);

const W = 2840, H = 1522;
const L = 135, R = 2857;
const topT = 20, topB = 421, botT = 425, botB = 1457;

const x = d3.scaleUtc().domain([Date.UTC(1983,0,1), Date.UTC(1993,0,1)]).range([L, R]);
const yE = d3.scaleLinear().domain([780,796]).range([topB, topT]);
const yQ = d3.scaleLinear().domain([0,44755]).range([botB, botT]);

const svg = d3.select('#chart');
const defs = svg.append('defs');
defs.append('clipPath').attr('id','clipTop').append('rect')
  .attr('x',L).attr('y',topT).attr('width',W-L).attr('height',topB-topT);
defs.append('clipPath').attr('id','clipBot').append('rect')
  .attr('x',L).attr('y',botT).attr('width',W-L).attr('height',botB-botT+1);

const GRID = '#c0c0c0';
const yearBounds = years.slice(1).map(y=>Date.UTC(y,0,1));
const allBounds = years.map(y=>Date.UTC(y,0,1));

// gridlines
const g = svg.append('g').attr('stroke',GRID).attr('stroke-width',1.6);
elevTicks.filter(v=>v>780 && v<796).forEach(v=>{
  g.append('line').attr('x1',L).attr('x2',W).attr('y1',yE(v)).attr('y2',yE(v));
});
flowTicks.forEach(v=>{
  g.append('line').attr('x1',L).attr('x2',W).attr('y1',yQ(v)).attr('y2',yQ(v));
});
yearBounds.forEach(t=>{
  g.append('line').attr('x1',x(t)).attr('x2',x(t)).attr('y1',topT).attr('y2',topB);
  g.append('line').attr('x1',x(t)).attr('x2',x(t)).attr('y1',botT).attr('y2',botB);
});

// watermark
svg.append('text')
  .attr('transform','translate(1022,1333) rotate(-45)')
  .attr('font-size',337)
  .attr('fill','#808080')
  .attr('fill-opacity',0.4)
  .text('DRAFT');

// data lines
const lineE = d3.line().x(d=>x(d[0])).y(d=>yE(d[1]));
const lineQ = d3.line().x(d=>x(d[0])).y(d=>yQ(d[1]));
svg.append('path').datum(elevPts).attr('clip-path','url(#clipTop)')
  .attr('fill','none').attr('stroke','#00b000').attr('stroke-width',1.6).attr('d',lineE);
svg.append('path').datum(disPts).attr('clip-path','url(#clipBot)')
  .attr('fill','none').attr('stroke','#0000ff').attr('stroke-width',1.6).attr('d',lineQ);
svg.append('path').datum(infPts).attr('clip-path','url(#clipBot)')
  .attr('fill','none').attr('stroke','#ff0000').attr('stroke-width',1.6).attr('d',lineQ);

// frame / axes
const ax = svg.append('g').attr('stroke','#000');
ax.append('line').attr('x1',L).attr('x2',W).attr('y1',topT).attr('y2',topT).attr('stroke-width',2);
ax.append('line').attr('x1',L).attr('x2',W).attr('y1',topB).attr('y2',topB).attr('stroke-width',1.6);
ax.append('line').attr('x1',L).attr('x2',W).attr('y1',botT).attr('y2',botT).attr('stroke-width',1.6);
ax.append('line').attr('x1',L).attr('x2',W).attr('y1',botB).attr('y2',botB).attr('stroke-width',2);
ax.append('line').attr('x1',L).attr('x2',L).attr('y1',topT).attr('y2',topB).attr('stroke-width',2);
ax.append('line').attr('x1',L).attr('x2',L).attr('y1',botT).attr('y2',botB+22).attr('stroke-width',2);

// left axes via d3
const axE = d3.axisLeft(yE).tickValues(elevTicks).tickSize(8).tickPadding(8).tickFormat(d3.format('d'));
const axQ = d3.axisLeft(yQ).tickValues(flowTicks).tickSize(8).tickPadding(8).tickFormat(d3.format(','));
[axE, axQ].forEach(a=>{
  const gg = svg.append('g').attr('transform',`translate(${L},0)`).call(a);
  gg.select('.domain').remove();
  gg.selectAll('.tick line').attr('stroke','#000').attr('stroke-width',1.5);
  gg.selectAll('.tick text').attr('font-size',22).attr('fill','#000')
    .attr('font-family','"Liberation Sans",Arial,sans-serif');
});

// bottom axis ticks + year labels
const axX = d3.axisBottom(x).tickValues(allBounds).tickSize(22).tickFormat('');
const gx = svg.append('g').attr('transform',`translate(0,${botB})`).call(axX);
gx.select('.domain').remove();
gx.selectAll('.tick line').attr('stroke','#000').attr('stroke-width',1.2);
svg.append('g').selectAll('text').data(years).join('text')
  .attr('x',(d)=>x(Date.UTC(d,6,2)))
  .attr('y',1492)
  .attr('text-anchor','middle')
  .attr('font-size',22)
  .text((d,i)=>yearLabels[i]);

// axis titles
svg.append('text').attr('transform','translate(38,214) rotate(-90)')
  .attr('text-anchor','middle').attr('font-size',22).text('Elev (ft)');
svg.append('text').attr('transform','translate(40,962) rotate(-90)')
  .attr('text-anchor','middle').attr('font-size',22).text('cfs');

// legend
const legColors = ['#00b000','#0000ff','#ff0000'];
const legLine = [[11,64],[974,1029],[1946,2003]];
const legText = [67,1032,2005];
legendNames.forEach((n,i)=>{
  svg.append('line').attr('x1',legLine[i][0]).attr('x2',legLine[i][1])
    .attr('y1',1517).attr('y2',1517).attr('stroke',legColors[i]).attr('stroke-width',1.6);
  svg.append('text').attr('x',legText[i]).attr('y',1526).attr('font-size',21).text(n);
});
</script>
</body></html>
